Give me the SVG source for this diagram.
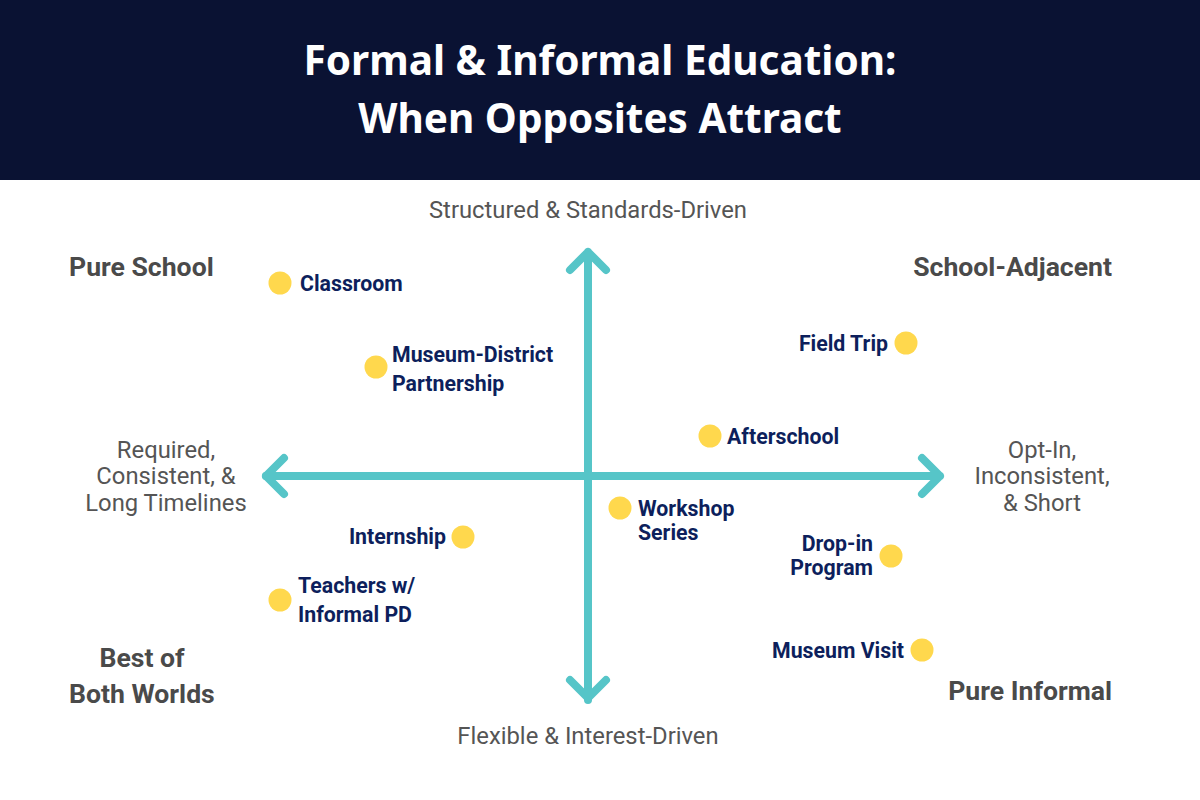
<svg xmlns="http://www.w3.org/2000/svg" width="1200" height="800" viewBox="0 0 1200 800">
<style>
.title{font-family:"Noto Sans","Open Sans",sans-serif;font-weight:700;font-size:40.5px;fill:#ffffff;text-anchor:middle}
.quad{font-family:Roboto,"Liberation Sans",sans-serif;font-weight:700;font-size:26.6px;fill:#4a4a4a}
.axis{font-family:Roboto,"Liberation Sans",sans-serif;font-size:23.8px;fill:#555555;text-anchor:middle}
.lbl{font-family:Roboto,"Liberation Sans",sans-serif;font-weight:700;font-size:21.3px;fill:#0d1f5c}
.end{text-anchor:end}
.dot{fill:#ffd84d}
.ax{stroke:#56c5c8;stroke-width:8;stroke-linecap:round;stroke-linejoin:round;fill:none}
</style>
<rect x="0" y="0" width="1200" height="800" fill="#ffffff"/>
<g id="header">
<rect x="0" y="0" width="1200" height="180" fill="#0a1233"/>
<text class="title" x="600" y="75">Formal &amp; Informal Education:</text>
<text class="title" x="600" y="133">When Opposites Attract</text>
</g>
<g id="connectors">
<path class="ax" d="M588 700 V252 M570 270 L588 252 L606 270"/>
<path class="ax" d="M588 476 V698 M570 680 L588 698 L606 680"/>
<path class="ax" d="M266 476 H940 M922 458 L940 476 L922 494"/>
<path class="ax" d="M588 476 H266 M284 458 L266 476 L284 494"/>
</g>
<g id="axis-labels">
<text class="axis" x="588" y="218">Structured &amp; Standards-Driven</text>
<text class="axis" x="588" y="744">Flexible &amp; Interest-Driven</text>
<text class="axis" x="166" y="458">Required,</text>
<text class="axis" x="166" y="484">Consistent, &amp;</text>
<text class="axis" x="166" y="511">Long Timelines</text>
<text class="axis" x="1042" y="458">Opt-In,</text>
<text class="axis" x="1042" y="484">Inconsistent,</text>
<text class="axis" x="1042" y="511">&amp; Short</text>
</g>
<g id="quadrants">
<text class="quad" x="69" y="276">Pure School</text>
<text class="quad end" x="1112" y="276">School-Adjacent</text>
<text class="quad" x="142" y="667" text-anchor="middle">Best of</text>
<text class="quad" x="69" y="703">Both Worlds</text>
<text class="quad end" x="1112" y="700">Pure Informal</text>
</g>
<g id="classroom"><circle class="dot" cx="280" cy="283" r="11.5"/><text class="lbl" x="300" y="291">Classroom</text></g>
<g id="museum-district"><circle class="dot" cx="376" cy="367" r="11.5"/><text class="lbl" x="392" y="362">Museum-District</text><text class="lbl" x="392" y="391">Partnership</text></g>
<g id="afterschool"><circle class="dot" cx="710" cy="436" r="11.5"/><text class="lbl" x="727" y="444">Afterschool</text></g>
<g id="field-trip"><circle class="dot" cx="906" cy="343" r="11.5"/><text class="lbl end" x="888" y="351">Field Trip</text></g>
<g id="workshop-series"><circle class="dot" cx="620" cy="508" r="11.5"/><text class="lbl" x="638" y="516">Workshop</text><text class="lbl" x="638" y="540">Series</text></g>
<g id="internship"><circle class="dot" cx="463" cy="537" r="11.5"/><text class="lbl end" x="446" y="544">Internship</text></g>
<g id="drop-in"><circle class="dot" cx="891" cy="556" r="11.5"/><text class="lbl end" x="873" y="551">Drop-in</text><text class="lbl end" x="873" y="575">Program</text></g>
<g id="teachers"><circle class="dot" cx="280" cy="600" r="11.5"/><text class="lbl" x="298" y="593">Teachers w/</text><text class="lbl" x="298" y="622">Informal PD</text></g>
<g id="museum-visit"><circle class="dot" cx="922" cy="650" r="11.5"/><text class="lbl end" x="904" y="658">Museum Visit</text></g>
</svg>
